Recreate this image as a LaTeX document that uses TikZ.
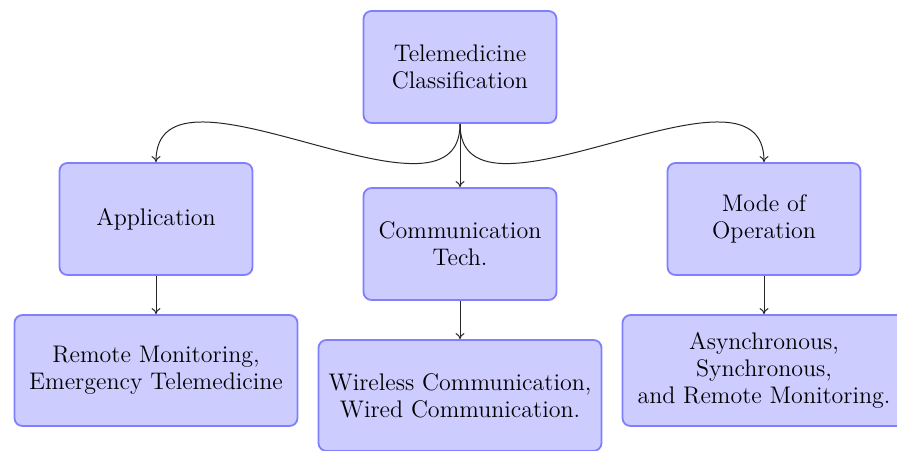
\documentclass[tikz,border=0pt]{standalone}
\usetikzlibrary{arrows.meta}
\begin{document}
\begin{tikzpicture}[x=0.5pt,y=-0.5pt,
  box/.style={draw=blue!50, fill=blue!20, line width=0.9pt, rounded corners=4pt,
    align=center, font=\fontsize{12}{13.5}\selectfont, inner sep=2pt},
  small/.style={box, minimum width=96.5pt, minimum height=56pt},
  wide/.style={box, minimum width=141.5pt, minimum height=55.5pt},
  conn/.style={draw=black!85, line width=0.5pt, -{To[length=3pt,width=4.5pt]}}]
\useasboundingbox (0,0) rectangle (897,450);
\node[small] (top) at (460,67) {Telemedicine\\Classification};
\node[small] (app) at (156,219) {Application};
\node[small] (com) at (460,244) {Communication\\Tech.};
\node[small] (mode) at (764,219) {Mode of\\Operation};
\node[wide] (rem) at (156,370.5) {Remote Monitoring,\\Emergency Telemedicine};
\node[wide] (wir) at (460,395.5) {Wireless Communication,\\Wired Communication.};
\node[wide] (asy) at (764,370.5) {Asynchronous,\\Synchronous,\\and Remote Monitoring.};
\draw[conn] (top.south) to[out=-90,in=90] (app.north);
\draw[conn] (top.south) -- (com.north);
\draw[conn] (top.south) to[out=-90,in=90] (mode.north);
\draw[conn] (app.south) -- (rem.north);
\draw[conn] (com.south) -- (wir.north);
\draw[conn] (mode.south) -- (asy.north);
\end{tikzpicture}
\end{document}
